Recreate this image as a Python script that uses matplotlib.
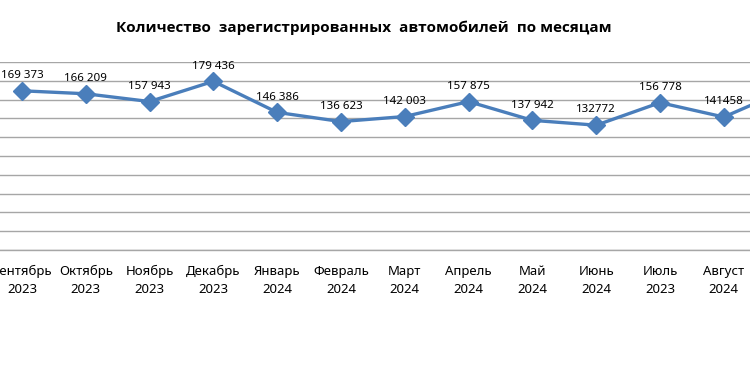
import matplotlib
matplotlib.use("Agg")
import matplotlib.pyplot as plt

plt.rcParams['font.family'] = ['Noto Sans', 'DejaVu Sans']

months = ["Сентябрь\n2023", "Октябрь\n2023", "Ноябрь\n2023", "Декабрь\n2023",
          "Январь\n2024", "Февраль\n2024", "Март\n2024", "Апрель\n2024",
          "Май\n2024", "Июнь\n2024", "Июль\n2023", "Август\n2024", "Сентябрь\n2024"]
values = [169373, 166209, 157943, 179436, 146386, 136623, 142003, 157875,
          137942, 132772, 156778, 141458, 171000]
value_labels = ["169 373", "166 209", "157 943", "179 436", "146 386", "136 623",
                "142 003", "157 875", "137 942", "132772", "156 778", "141458", ""]
title = "Количество  зарегистрированных  автомобилей  по месяцам"

W, H = 750, 375
fig = plt.figure(figsize=(7.5, 3.75), dpi=100)
step = 63.8
x0 = 22 - step / 2
left = x0 / W
width = step * len(months) / W
bottom = (H - 250) / H
height = 188 / H
ax = fig.add_axes([left, bottom, width, height])

x = list(range(len(months)))
ax.plot(x, values, color='#4a7ebb', lw=2.4, marker='D', markersize=9.5,
        markerfacecolor='#4a7ebb', markeredgecolor='#4a7ebb', zorder=3, clip_on=False)

for xi, v, lab in zip(x, values, value_labels):
    ax.annotate(lab, (xi, v), xytext=(0, 7), textcoords='offset points',
                ha='center', va='bottom', fontsize=8.3, color='#000000')

ax.set_xlim(-0.5, len(months) - 0.5)
ax.set_ylim(0, 200000)
ax.set_yticks(range(0, 200001, 20000))
ax.set_yticklabels([])
ax.grid(axis='y', color='#a6a6a6', lw=1)
ax.axhline(0, color='#a6a6a6', lw=1, clip_on=False, zorder=1)
ax.set_axisbelow(True)
for s in ax.spines.values():
    s.set_visible(False)
ax.set_xticks(x)
ax.set_xticklabels(months, fontsize=9.5, color='#000000', linespacing=1.5)
ax.get_xticklabels()[-1].set_visible(False)
ax.tick_params(axis='both', length=0)
ax.tick_params(axis='x', pad=11)

fig.text(364 / W, 1 - 28 / H, title, ha='center', va='center',
         fontsize=11, fontweight='bold', color='#000000',
         family=['Open Sans', 'DejaVu Sans'])

fig.savefig("out.png", dpi=100)
